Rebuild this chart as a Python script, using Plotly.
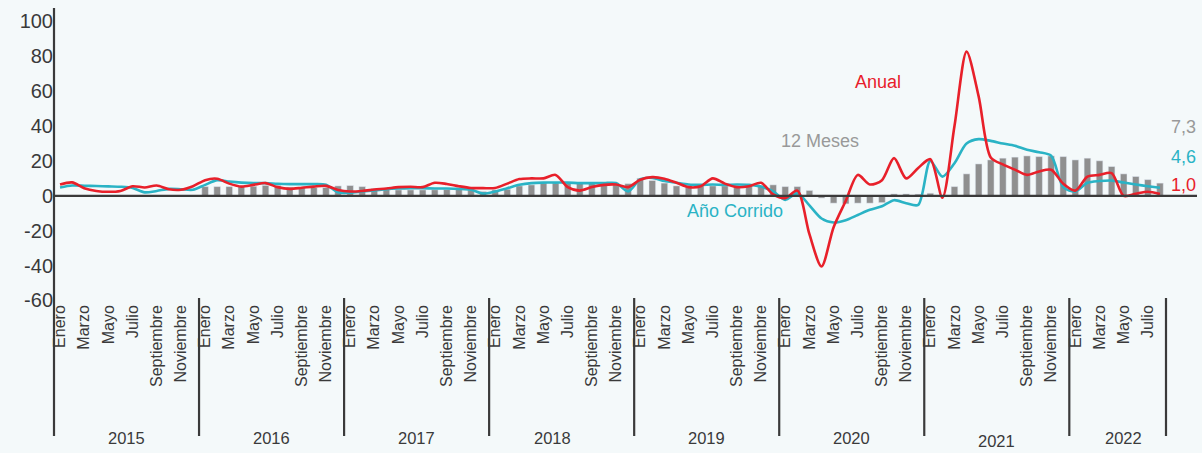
import plotly.graph_objects as go

# ---------------- data ----------------
years = [2015, 2016, 2017, 2018, 2019, 2020, 2021, 2022]
month_names = ["Enero", "Febrero", "Marzo", "Abril", "Mayo", "Junio", "Julio",
               "Agosto", "Septiembre", "Octubre", "Noviembre", "Diciembre"]
n_months_last_year = 8  # Jan-Aug 2022

# Anual (red), Jan 2015 - Aug 2022
anual = [
    6.5, 7.7, 4.4, 2.8, 2.3, 2.8, 5.5, 4.8, 5.9, 3.8, 3.5, 5.5,        # 2015
    9.0, 9.8, 7.0, 5.3, 6.3, 7.3, 5.0, 4.0, 4.6, 5.3, 5.7, 3.4,        # 2016
    2.5, 2.8, 3.6, 4.2, 5.0, 5.2, 5.0, 7.5, 6.8, 5.5, 4.5, 4.4,        # 2017
    4.5, 7.0, 9.6, 10.0, 10.0, 12.0, 5.0, 3.0, 5.0, 6.3, 6.5, 5.0,     # 2018
    9.2, 10.7, 9.8, 7.5, 5.0, 5.5, 10.0, 7.0, 5.0, 5.5, 7.5, 0.8,      # 2019
    -1.3, 3.0, -22.0, -40.5, -18.0, -3.0, 12.0, 6.5, 9.0, 21.6, 10.0, 16.0,  # 2020
    21.0, -1.0, 40.0, 82.7, 57.0, 22.0, 18.0, 15.0, 12.0, 14.0, 15.0, 7.0,   # 2021
    3.0, 11.0, 12.0, 13.0, 0.0, 1.2, 2.3, 1.0,                          # 2022
]

# Año Corrido (teal), Jan 2015 - Aug 2022
ano_corrido = [
    4.8, 5.9, 5.8, 5.6, 5.4, 5.2, 4.5, 2.0, 2.8, 4.0, 3.8, 3.5,        # 2015
    6.3, 9.0, 8.2, 7.6, 7.3, 7.3, 6.9, 6.7, 6.7, 6.7, 6.3, 2.0,        # 2016
    1.8, 2.5, 3.1, 3.8, 4.2, 4.4, 4.4, 4.2, 4.2, 4.0, 3.5, 1.3,        # 2017
    2.5, 4.4, 6.3, 7.3, 7.6, 7.6, 7.6, 7.3, 7.3, 7.3, 7.3, 2.5,        # 2018
    9.5, 10.3, 8.5, 7.5, 6.5, 6.3, 6.5, 6.3, 6.5, 6.3, 5.3, 2.5,       # 2019
    -2.3, 1.5, -5.5, -13.0, -15.3, -14.0, -11.0, -8.0, -6.0, -2.5, -4.2, -5.2,  # 2020
    20.0, 11.0, 18.7, 30.0, 32.5, 31.5, 30.0, 28.7, 26.4, 25.0, 23.0, 5.0,     # 2021
    2.5, 7.5, 8.5, 8.8, 7.6, 6.5, 5.5, 4.6,                             # 2022
]

# 12 Meses (grey bars), Jan 2016 - Aug 2022
doce_meses = [
    5.3, 5.3, 5.3, 5.7, 5.5, 6.0, 6.0, 5.0, 4.8, 4.8, 4.8, 5.7,        # 2016
    5.9, 5.3, 4.2, 3.6, 3.4, 3.4, 3.4, 3.5, 3.6, 4.4, 3.4, 2.5,        # 2017
    3.4, 3.8, 5.7, 6.3, 7.3, 7.3, 7.3, 7.3, 7.3, 7.3, 6.3, 7.0,        # 2018
    10.1, 8.8, 7.3, 5.7, 5.7, 5.7, 5.7, 5.7, 5.7, 5.7, 5.7, 6.3,       # 2019
    5.3, 5.3, 3.1, -1.3, -4.2, -4.6, -4.2, -4.2, -3.9, 1.1, 1.1, 1.0,  # 2020
    1.5, 0.3, 5.3, 12.6, 18.3, 20.6, 21.6, 22.2, 22.9, 22.5, 22.9, 22.5,  # 2021
    20.6, 21.6, 20.1, 16.8, 12.6, 11.1, 9.3, 7.3,                       # 2022
]
bars_start_year = 2016

series_names = ["Anual", "12 Meses", "Año Corrido"]
last_labels = ["7,3", "4,6", "1,0"]
y_ticks = [-60, -40, -20, 0, 20, 40, 60, 80, 100]
y_ticktext = ["-60", "-40", "-20", "0", "20", "40", "60", "80", "100"]

# ---------------- derived categories ----------------
cats = []
for y in years:
    nm = 12 if y != years[-1] else n_months_last_year
    for m in range(nm):
        cats.append((y, m))
idx = list(range(len(cats)))
bar_idx = [i for i, (y, m) in enumerate(cats) if y >= bars_start_year]

tickvals = [i for i, (y, m) in enumerate(cats) if m % 2 == 0]
ticktext = [month_names[cats[i][1]] for i in tickvals]

# ---------------- style ----------------
RED = "#e8202a"
TEAL = "#2ab3c5"
GREY = "#8f8f8f"
GREY_TXT = "#999999"
DARK = "#3a3a3a"
BG = "#f4f9fa"
FONT = "Liberation Sans, Arial, sans-serif"

W, H = 1202, 453
L, R, T, B = 54, 36, 8, 152
YMIN, YMAX = -60.3, 107.7
XMIN, XMAX = -0.5, len(cats) - 0.5

# small visual offsets of year labels (pixels) as seen in the reference
year_xshift = {2018: -9, 2022: 6}
year_ypix = {2021: 441}


def px(pix):
    return (pix - L) / (W - L - R)


def py(pix):
    return (H - B - pix) / (H - T - B)


fig = go.Figure()
fig.add_trace(go.Bar(x=bar_idx, y=doce_meses, marker_color=GREY, width=0.55,
                     name=series_names[1], hoverinfo="y"))
fig.add_trace(go.Scatter(x=idx, y=ano_corrido, mode="lines", name=series_names[2],
                         line=dict(color=TEAL, width=2.6, shape="spline", smoothing=0.8)))
fig.add_trace(go.Scatter(x=idx, y=anual, mode="lines", name=series_names[0],
                         line=dict(color=RED, width=2.6, shape="spline", smoothing=0.8)))

shapes = []
# zero line
shapes.append(dict(type="line", xref="paper", yref="y", x0=0, x1=px(1197), y0=0, y1=0,
                   line=dict(color=DARK, width=2.2), layer="above"))
# y axis line
shapes.append(dict(type="line", xref="paper", yref="paper", x0=0, x1=0,
                   y0=py(436), y1=py(8), line=dict(color=DARK, width=2.2)))
# year separators
ends = []
for y in years:
    last = max(i for i, c in enumerate(cats) if c[0] == y)
    ends.append(last + 0.5)
for e in ends:
    xp = (e - XMIN) / (XMAX - XMIN)
    shapes.append(dict(type="line", xref="paper", yref="paper", x0=xp, x1=xp,
                       y0=py(436), y1=py(298), line=dict(color=DARK, width=2.2)))

annotations = []
for y in years:
    ii = [i for i, c in enumerate(cats) if c[0] == y]
    cx = (min(ii) + max(ii)) / 2
    annotations.append(dict(x=cx, xref="x", y=py(year_ypix.get(y, 438)), yref="paper",
                            xshift=year_xshift.get(y, 0),
                            text=str(y), showarrow=False,
                            font=dict(size=16.5, color=DARK, family=FONT),
                            xanchor="center", yanchor="middle"))

annotations += [
    dict(x=67.7, y=65.3, xref="x", yref="y", text=series_names[0], showarrow=False,
         font=dict(size=18, color=RED, family=FONT)),
    dict(x=62.9, y=31.5, xref="x", yref="y", text=series_names[1], showarrow=False,
         font=dict(size=18, color=GREY_TXT, family=FONT)),
    dict(x=55.8, y=-8.6, xref="x", yref="y", text=series_names[2], showarrow=False,
         font=dict(size=18, color=TEAL, family=FONT)),
]
for txt, yy, col in zip(last_labels, [39.5, 22.3, 6.3], [GREY_TXT, TEAL, RED]):
    annotations.append(dict(x=px(1198), xref="paper", y=yy, yref="y", text=txt,
                            showarrow=False, xanchor="right",
                            font=dict(size=18, color=col, family=FONT)))

fig.update_layout(
    width=W, height=H,
    margin=dict(l=L, r=R, t=T, b=B, pad=0),
    paper_bgcolor=BG, plot_bgcolor=BG,
    showlegend=False,
    bargap=0.45,
    font=dict(family=FONT, color=DARK),
    shapes=shapes,
    annotations=annotations,
    xaxis=dict(range=[XMIN, XMAX], tickmode="array", tickvals=tickvals, ticktext=ticktext,
               tickangle=-90, showgrid=False, zeroline=False, showline=False, ticks="",
               tickfont=dict(size=16, color=DARK, family=FONT), fixedrange=True),
    yaxis=dict(range=[YMIN, YMAX], tickmode="array", tickvals=y_ticks, ticktext=y_ticktext,
               showgrid=False, zeroline=False, showline=False, ticks="",
               tickfont=dict(size=20, color=DARK, family=FONT), fixedrange=True),
)

fig.write_html(
    "out.html",
    config={"displayModeBar": False},
    post_script="document.body.style.margin='0';document.body.style.overflow='hidden';"
                "document.body.style.background='" + BG + "';",
)
